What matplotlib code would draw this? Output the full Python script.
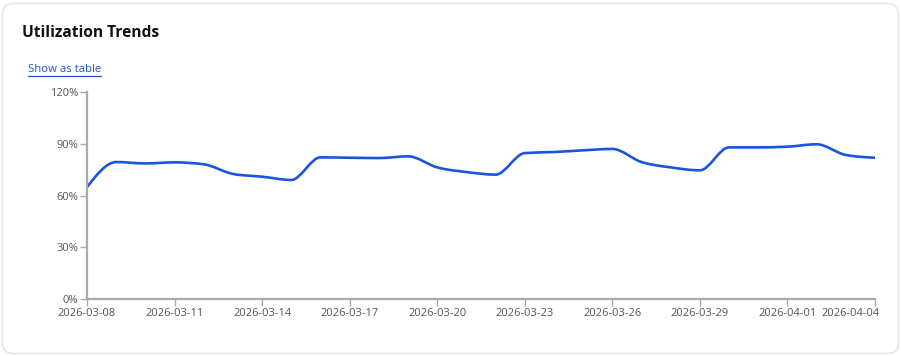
import numpy as np
import pandas as pd
import matplotlib
matplotlib.use("Agg")
import matplotlib.pyplot as plt
from matplotlib.path import Path
from matplotlib.patches import PathPatch, FancyBboxPatch
import matplotlib.dates as mdates
import matplotlib.transforms as mtransforms
from matplotlib.ticker import FuncFormatter

plt.rcParams['font.family'] = ['Open Sans', 'DejaVu Sans']

title = "Utilization Trends"
link_text = "Show as table"
start_date = "2026-03-08"
utilization = [64.8, 79.4, 78.6, 79.2, 78.1, 72.5, 70.9, 69.0, 82.1, 81.9,
               81.7, 82.7, 76.3, 73.6, 72.1, 84.6, 85.2, 86.2, 87.0, 79.4,
               76.3, 74.6, 87.9, 87.9, 88.3, 89.7, 83.5, 81.9]
y_ticks = [0, 30, 60, 90, 120]

dates = pd.date_range(start_date, periods=len(utilization), freq="D")
x_ticks = dates[::3]

W, H = 901, 356
fig = plt.figure(figsize=(W / 100, H / 100), dpi=100)
fig.patch.set_facecolor("white")

# card
card = FancyBboxPatch((2.5 / W, 2.5 / H), (W - 5) / W, (H - 6) / H,
                      boxstyle="round,pad=0,rounding_size=0.012",
                      transform=fig.transFigure, facecolor="white",
                      edgecolor="#e3e6ea", linewidth=1.2, mutation_aspect=W / H,
                      zorder=-10)
fig.patches.append(card)

fig.text(22 / W, 1 - 33 / H, title, fontsize=11.2, fontweight="bold",
         color="#111111", va="center", ha="left")
fig.text(28 / W, 1 - 69 / H, link_text, fontsize=8.2, color="#1a56db",
         va="center", ha="left")
fig.add_artist(plt.Line2D([28 / W, 101 / W], [1 - 75.5 / H, 1 - 75.5 / H],
                          transform=fig.transFigure, color="#1a56db", lw=0.9))

left, right, top, bottom = 87, 875, 92, 299
ax = fig.add_axes([left / W, 1 - bottom / H, (right - left) / W, (bottom - top) / H])
ax.set_facecolor("none")
ax.set_zorder(5)

xnum = mdates.date2num(dates)
y = np.array(utilization, dtype=float)

# monotone cubic (d3 curveMonotoneX) drawn as bezier segments
n = len(xnum)
h = np.diff(xnum)
s = np.diff(y) / h
t = np.zeros(n)
for i in range(1, n - 1):
    s0, s1 = s[i - 1], s[i]
    p = (s0 * h[i] + s1 * h[i - 1]) / (h[i - 1] + h[i])
    t[i] = (np.sign(s0) + np.sign(s1)) * min(abs(s0), abs(s1), 0.5 * abs(p))
t[0] = (3 * s[0] - t[1]) / 2 if n > 1 else 0
t[-1] = (3 * s[-1] - t[-2]) / 2
verts = [(xnum[0], y[0])]
codes = [Path.MOVETO]
for i in range(n - 1):
    dx = h[i] / 3
    verts += [(xnum[i] + dx, y[i] + dx * t[i]),
              (xnum[i + 1] - dx, y[i + 1] - dx * t[i + 1]),
              (xnum[i + 1], y[i + 1])]
    codes += [Path.CURVE4] * 3
ax.add_patch(PathPatch(Path(verts, codes), facecolor="none",
                       edgecolor="#1a56db", lw=1.9, capstyle="round", joinstyle="round"))

ax.set_xlim(xnum[0], xnum[-1])
ax.set_ylim(0, 120)
ax.set_xticks(mdates.date2num(x_ticks))
ax.set_xticklabels([d.strftime("%Y-%m-%d") for d in x_ticks])
ax.set_yticks(y_ticks)
ax.yaxis.set_major_formatter(FuncFormatter(lambda v, p: f"{int(v)}%"))

for side in ["top", "right"]:
    ax.spines[side].set_visible(False)
for side in ["left", "bottom"]:
    ax.spines[side].set_color("#aaaaaa")
    ax.spines[side].set_linewidth(1.6)
ax.tick_params(axis="both", colors="#aaaaaa", length=5, width=1, labelsize=8,
               labelcolor="#555555", pad=1.5)

# last x label is pulled inside the card
last = ax.get_xticklabels()[-1]
last.set_horizontalalignment("right")
last.set_transform(last.get_transform() +
                   mtransforms.ScaledTranslation(5 / 100, 0, fig.dpi_scale_trans))

fig.savefig("out.png", dpi=100, facecolor="white")
